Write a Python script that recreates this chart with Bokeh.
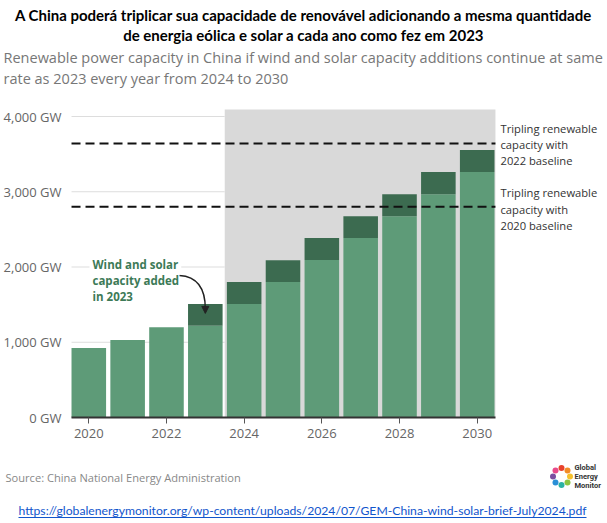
import math
from bokeh.plotting import figure
from bokeh.models import Range1d, FixedTicker, Label, Arrow, NormalHead
from bokeh.embed import file_html
from bokeh.resources import INLINE

# ---- data (GW) ----
years = [2020, 2021, 2022, 2023, 2024, 2025, 2026, 2027, 2028, 2029, 2030]
base_gw = [925, 1030, 1200, 1218, 1508, 1800, 2092, 2384, 2676, 2968, 3262]
added_gw = [0, 0, 0, 290, 292, 290, 292, 292, 292, 294, 292]
triple_2022_baseline = 3640
triple_2020_baseline = 2800
projection_start = 2024
x_tick_years = [2020, 2022, 2024, 2026, 2028, 2030]
y_ticks_gw = [0, 1000, 2000, 3000, 4000]

total_gw = [b + a for b, a in zip(base_gw, added_gw)]

LIGHT = "#5e9b78"
DARK = "#3c6b50"

# ---- layout (pixels) ----
W, H = 607, 523
X2020_PX, PX_PER_YEAR = 88.3, 38.84      # pixel of 2020 tick, pixels per year
ZERO_PX, PX_PER_GW = 417.0, 0.07525      # pixel of 0 GW, pixels per GW
BAR_W = 0.89

def px2x(px):
    return years[0] + (px - X2020_PX) / PX_PER_YEAR

def px2y(py):
    return (ZERO_PX - py) / PX_PER_GW

chart_x0 = years[0] - 0.445
chart_x1 = years[-1] + 0.47
chart_top = 4093

p = figure(width=W, height=H,
           x_range=Range1d(px2x(0), px2x(W)), y_range=Range1d(px2y(H), px2y(0)),
           output_backend="svg", toolbar_location=None,
           min_border=0, min_border_left=0, min_border_right=0,
           min_border_top=0, min_border_bottom=0)
p.outline_line_color = None
p.background_fill_color = "white"
p.border_fill_color = "white"
p.grid.visible = False

# projection shading
p.quad(left=[projection_start - 0.5], right=[chart_x1], bottom=[0], top=[chart_top],
       fill_color="#d9d9d9", line_color=None)

# gridlines (behind bars)
grid_vals = [v for v in y_ticks_gw if v > 0]
p.segment(x0=[chart_x0] * len(grid_vals), y0=grid_vals, x1=[projection_start - 0.5] * len(grid_vals),
          y1=grid_vals, line_color="#dddddd", line_width=1)

p.vbar(x=years, bottom=0, top=base_gw, width=BAR_W, fill_color=LIGHT, line_color=None)
p.vbar(x=years, bottom=base_gw, top=total_gw, width=BAR_W, fill_color=DARK, line_color=None)

# tripling lines
p.segment(x0=[chart_x0, chart_x0], y0=[triple_2022_baseline, triple_2020_baseline],
          x1=[chart_x1, chart_x1], y1=[triple_2022_baseline, triple_2020_baseline],
          line_color="#111111", line_width=2, line_dash="9 5")

# axes placed at fixed locations inside the frame
p.xaxis.fixed_location = 0
p.xaxis.bounds = (chart_x0, chart_x1)
p.xaxis.ticker = FixedTicker(ticks=x_tick_years)
p.xaxis.axis_line_color = "#333333"
p.xaxis.axis_line_width = 2
p.xaxis.major_tick_line_color = "#555555"
p.xaxis.major_tick_out = 6
p.xaxis.major_tick_in = 0
p.xaxis.minor_tick_line_color = None
p.xaxis.major_label_text_font = "Open Sans"
p.xaxis.major_label_text_font_size = "13px"
p.xaxis.major_label_text_color = "#666666"
p.xaxis.major_label_standoff = 5

p.yaxis.fixed_location = chart_x0
p.yaxis.ticker = FixedTicker(ticks=y_ticks_gw)
p.yaxis.major_label_overrides = {v: f"{v:,} GW" for v in y_ticks_gw}
p.yaxis.axis_line_color = None
p.yaxis.major_tick_line_color = None
p.yaxis.minor_tick_line_color = None
p.yaxis.major_tick_out = 0
p.yaxis.major_tick_in = 0
p.yaxis.major_label_text_font = "Open Sans"
p.yaxis.major_label_text_font_size = "13px"
p.yaxis.major_label_text_color = "#666666"
p.yaxis.major_label_standoff = 10

# arrow for annotation
end_x = years[3]
end_y = base_gw[3] + added_gw[3] * 0.57
p.bezier(x0=[px2x(179)], y0=[px2y(275)], x1=[end_x], y1=[end_y + 60],
         cx0=[px2x(196)], cy0=[px2y(276)], cx1=[end_x], cy1=[px2y(286)],
         line_color="#222222", line_width=1.5)
p.add_layout(Arrow(end=NormalHead(size=7, fill_color="#222222", line_color="#222222"),
                   x_start=end_x, y_start=end_y + 60, x_end=end_x, y_end=end_y,
                   line_color="#222222", line_width=1.5))


def lab(text, X, Y, size, color, bold=False, align="left", font="Open Sans", **kw):
    l = Label(x=X, y=H - Y, x_units="screen", y_units="screen", text=text,
              text_font=font, text_font_size=f"{size}px", text_color=color,
              text_font_style="bold" if bold else "normal",
              text_align=align, text_baseline="middle", **kw)
    p.add_layout(l)
    return l


# titles
lab("A China poderá triplicar sua capacidade de renovável adicionando a mesma quantidade",
    303, 14.5, 15, "#000000", bold=True, align="center", font="Lato")
lab("de energia eólica e solar a cada ano como fez em 2023",
    303, 34, 15, "#000000", bold=True, align="center", font="Lato")
lab("Renewable power capacity in China if wind and solar capacity additions continue at same",
    3, 57, 14.5, "#777777")
lab("rate as 2023 every year from 2024 to 2030", 3, 78, 14.5, "#777777")

# annotation text
GREEN_TXT = "#3d7a57"
lab("Wind and solar", 89, 263.5, 11.5, GREEN_TXT, bold=True,
    background_fill_color="white", background_fill_alpha=1.0, padding=3)
lab("capacity added", 92, 279.5, 11.5, GREEN_TXT, bold=True)
lab("in 2023", 92, 295.5, 11.5, GREEN_TXT, bold=True)

for Y, t in [(127.5, "Tripling renewable"), (144, "capacity with"), (160.3, "2022 baseline"),
             (192, "Tripling renewable"), (208.5, "capacity with"), (224.5, "2020 baseline")]:
    lab(t, 500, Y, 11.2, "#333333")

# footer
lab("Source: China National Energy Administration", 5, 477, 11.1, "#888888")

# logo
logo_colors = ["#e8412c", "#f28c28", "#f6c12e", "#8cc63f", "#2bb3a3", "#2a8fd6", "#7b4fa0", "#e84a8a"]
lx, ly = [], []
for i in range(len(logo_colors)):
    ang = math.pi / 2 - i * 2 * math.pi / len(logo_colors)
    lx.append(px2x(561 + 8.5 * math.cos(ang)))
    ly.append(px2y(476 - 8.5 * math.sin(ang)))
p.scatter(x=lx, y=ly, size=6, fill_color=logo_colors, line_color=None)
for Y, t in [(467, "Global"), (476, "Energy"), (485, "Monitor")]:
    lab(t, 574, Y, 7.5, "#333333", bold=True, font="Roboto")

lab("https://globalenergymonitor.org/wp-content/uploads/2024/07/GEM-China-wind-solar-brief-July2024.pdf",
    302, 510, 12.2, "#1155cc", align="center", font="Lato")
p.segment(x0=[px2x(18)], y0=[px2y(517)], x1=[px2x(586)], y1=[px2y(517)],
          line_color="#1155cc", line_width=1)

open("out.html", "w").write(file_html(p, INLINE))
